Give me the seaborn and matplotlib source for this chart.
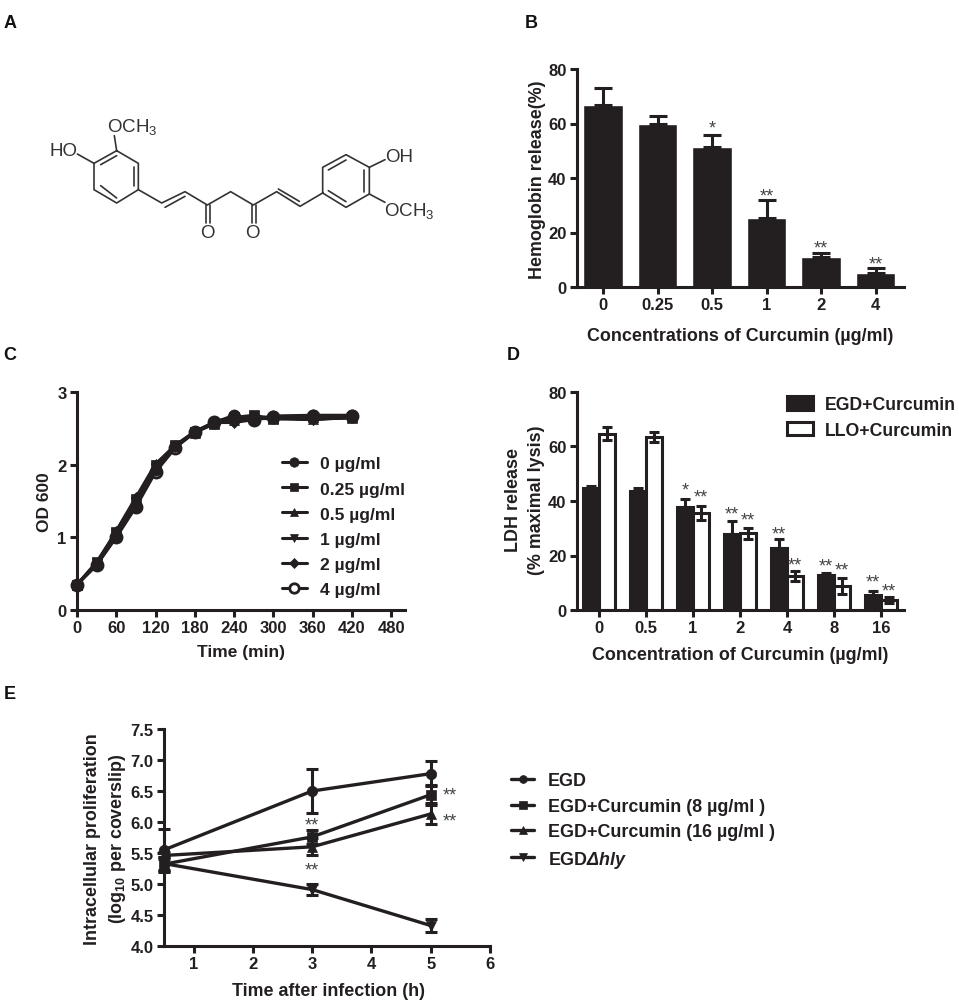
import numpy as np
import pandas as pd
import matplotlib
matplotlib.use('Agg')
import matplotlib.pyplot as plt
import seaborn as sns

INK = '#231f20'
W, H = 959, 1004

# panel B
b_conc = ['0', '0.25', '0.5', '1', '2', '4']
b_mean = [66.8, 59.8, 51.5, 25.4, 10.9, 5.3]
b_err = [6.2, 2.9, 4.4, 6.5, 1.7, 1.7]
b_star_x = [2, 3, 4, 5]
b_star_y = [59.5, 34.8, 15.6, 9.8]
b_star_txt = ['*', '**', '**', '**']

# panel C
c_time = [0, 30, 60, 90, 120, 150, 180, 210, 240, 270, 300, 360, 420]
c_names = ['0 µg/ml', '0.25 µg/ml', '0.5 µg/ml', '1 µg/ml', '2 µg/ml', '4 µg/ml']
c_0 = [0.35, 0.62, 1.02, 1.43, 1.92, 2.25, 2.45, 2.58, 2.68, 2.63, 2.67, 2.68, 2.68]
c_025 = [0.35, 0.66, 1.08, 1.53, 2.00, 2.27, 2.45, 2.56, 2.65, 2.68, 2.63, 2.65, 2.66]
c_05 = [0.35, 0.65, 1.06, 1.50, 1.97, 2.25, 2.44, 2.57, 2.62, 2.66, 2.64, 2.63, 2.64]
c_1 = [0.35, 0.64, 1.04, 1.47, 1.95, 2.24, 2.45, 2.58, 2.60, 2.64, 2.63, 2.62, 2.65]
c_2 = [0.35, 0.63, 1.09, 1.55, 2.01, 2.26, 2.46, 2.58, 2.58, 2.62, 2.65, 2.62, 2.66]
c_4 = [0.35, 0.62, 1.00, 1.42, 1.90, 2.23, 2.45, 2.59, 2.66, 2.62, 2.66, 2.67, 2.67]
c_series = [c_0, c_025, c_05, c_1, c_2, c_4]
c_markers = ['o', 's', '^', 'v', 'D', 'o']

# panel D
d_conc = ['0', '0.5', '1', '2', '4', '8', '16']
d_egd = [44.6, 43.5, 37.9, 27.8, 22.6, 12.8, 5.6]
d_egd_err = [0.8, 1.2, 2.8, 4.9, 3.3, 0.6, 1.5]
d_llo = [64.7, 63.6, 35.5, 28.1, 12.5, 8.8, 3.7]
d_llo_err = [2.4, 1.8, 2.6, 2.0, 1.8, 3.0, 1.1]
d_star_x = [1.835, 2.165, 2.835, 3.165, 3.835, 4.165, 4.835, 5.165, 5.835, 6.165]
d_star_y = [45.3, 42.7, 36.6, 34.3, 29.1, 17.8, 17.5, 15.9, 11.6, 8.3]
d_star_txt = ['*'] + ['**'] * 9

# panel E
e_time = [0.5, 3, 5]
e_names = ['EGD', 'EGD+Curcumin (8 µg/ml )', 'EGD+Curcumin (16 µg/ml )', r'EGD$\mathbfit{Δhly}$']
e_mean = [[5.55, 6.50, 6.78], [5.32, 5.76, 6.44], [5.46, 5.60, 6.13], [5.33, 4.91, 4.33]]
e_err = [[0.34, 0.36, 0.20], [0.12, 0.11, 0.16], [0.05, 0.14, 0.17], [0.11, 0.09, 0.10]]
e_markers = ['o', 's', '^', 'v']
e_star_x = [3, 3, 5.325, 5.325]
e_star_y = [6.0, 5.28, 6.49, 6.08]

# panel A, curcumin skeleton (traced, in 3x crop units)
ring_left = [(350, 455), (415, 493), (415, 572), (350, 612), (282, 572), (282, 493), (350, 455)]
ring_right = [(968, 582), (968, 505), (1038, 467), (1108, 505), (1108, 585), (1038, 625), (968, 582)]
chain = [(415, 572), (485, 612), (555, 578), (622, 618), (692, 578), (760, 618), (830, 578), (900, 622), (968, 582)]
bonds = [
    [(302, 497), (350, 470)], [(402, 505), (402, 560)], [(302, 560), (350, 597)],
    [(985, 513), (1038, 483)], [(1093, 513), (1093, 578)], [(985, 575), (1038, 608)],
    [(282, 493), (232, 465)], [(350, 455), (343, 410)],
    [(1108, 505), (1155, 482)], [(1108, 585), (1155, 610)],
    [(495, 625), (555, 592)], [(835, 570), (898, 607)],
    [(617, 618), (617, 672)], [(629, 618), (629, 672)],
    [(755, 618), (755, 672)], [(767, 618), (767, 672)],
]
atoms = [('HO', 190, 455), ('OCH$_3$', 397, 382), ('OH', 1198, 472), ('OCH$_3$', 1228, 632),
         ('O', 622, 700), ('O', 758, 700)]

sns.set_theme(style='ticks')
plt.rcParams['font.family'] = ['Liberation Sans', 'DejaVu Sans']
plt.rcParams['mathtext.fontset'] = 'custom'
plt.rcParams['mathtext.rm'] = 'Liberation Sans'
plt.rcParams['mathtext.bf'] = 'Liberation Sans:bold'
plt.rcParams['mathtext.bfit'] = 'Liberation Sans:italic:bold'
plt.rcParams['mathtext.default'] = 'regular'
plt.rcParams['text.color'] = INK
plt.rcParams['axes.labelcolor'] = INK
plt.rcParams['xtick.color'] = INK
plt.rcParams['ytick.color'] = INK

fig = plt.figure(figsize=(W / 100, H / 100), dpi=100)


def panel(left, right, top, bottom):
    ax = fig.add_axes([left / W, 1 - bottom / H, (right - left) / W, (bottom - top) / H])
    ax.patch.set_alpha(0)
    return ax


def style(ax, box, xlabel, ylabel, xc, xy, yc, yy, fs=12.9, ls=1.05):
    left, right, top, bottom = box
    ax.set_xlabel(xlabel, fontsize=fs, fontweight='bold', va='center')
    ax.set_ylabel(ylabel, fontsize=fs, fontweight='bold', va='center', linespacing=ls)
    ax.xaxis.set_label_coords((xc - left) / (right - left), (bottom - xy) / (bottom - top))
    ax.yaxis.set_label_coords((yc - left) / (right - left), (bottom - yy) / (bottom - top))
    ax.tick_params(width=2.2, length=5, labelsize=12, pad=2.5, color=INK)
    for t in ax.get_xticklabels() + ax.get_yticklabels():
        t.set_fontweight('bold')
    sns.despine(ax=ax)
    for s in ['left', 'bottom']:
        ax.spines[s].set_linewidth(2.2)
        ax.spines[s].set_color(INK)


def stars(ax, xs, ys, txt):
    for x, y, t in zip(xs, ys, txt):
        ax.annotate(t, (x, y), xytext=(0, -2.5), textcoords='offset points', ha='center',
                    va='center', fontsize=13, color='#444444', annotation_clip=False)


# B
box = (577, 904, 70, 288)
ax = panel(*box)
sns.barplot(x=b_conc, y=b_mean, color=INK, saturation=1, width=0.72, errorbar=None, ax=ax)
ax.errorbar(range(6), b_mean, yerr=[np.zeros(6), b_err], fmt='none', ecolor=INK,
            elinewidth=2.2, capsize=6.5, capthick=2.2)
ax.set_xlim(-0.477, 5.52)
ax.set_ylim(0, 80)
ax.set_yticks([0, 20, 40, 60, 80])
style(ax, box, 'Concentrations of Curcumin (µg/ml)', 'Hemoglobin release(%)', 740, 337, 537, 180)
stars(ax, b_star_x, b_star_y, b_star_txt)

# C
box = (77, 405, 393, 611)
ax = panel(*box)
for i, (name, vals, m) in enumerate(zip(c_names, c_series, c_markers)):
    filled = i != 5
    ms = {'s': 7, '^': 7, 'v': 7, 'D': 5.5}.get(m, 8)
    sns.lineplot(x=c_time, y=vals, ax=ax, color=INK, linewidth=2.2, marker=m, markersize=ms,
                 markerfacecolor=INK if filled else 'white', markeredgecolor=INK,
                 markeredgewidth=2 if not filled else 0.5, label=name, clip_on=False,
                 zorder=3 if not filled else 4)
ax.set_xlim(0, 501)
ax.set_ylim(0, 3)
ax.set_xticks(range(0, 481, 60))
ax.set_yticks([0, 1, 2, 3])
style(ax, box, 'Time (min)', 'OD 600', 241, 653, 45, 502, fs=12.5)
h, l = ax.get_legend_handles_labels()
ax.legend(h, l, loc='center left', bbox_to_anchor=(282 / W, 1 - 527.5 / H), bbox_transform=fig.transFigure,
          frameon=False, borderpad=0, borderaxespad=0, handlelength=1.4, handletextpad=0.75,
          labelspacing=0.56, markerscale=0.85, prop={'weight': 'bold', 'size': 12.6})

# D
box = (577, 904, 393, 611)
ax = panel(*box)
d_df = pd.DataFrame({
    'conc': d_conc * 2,
    'ldh': d_egd + d_llo,
    'group': ['EGD+Curcumin'] * 7 + ['LLO+Curcumin'] * 7,
})
sns.barplot(data=d_df, x='conc', y='ldh', hue='group', palette={'EGD+Curcumin': INK, 'LLO+Curcumin': 'white'},
            saturation=1, width=0.68, gap=0, errorbar=None, edgecolor=INK, linewidth=2.2, ax=ax)
x_pos = np.arange(7)
ax.errorbar(x_pos - 0.17, d_egd, yerr=[np.zeros(7), d_egd_err], fmt='none', ecolor=INK,
            elinewidth=2.2, capsize=3.5, capthick=2.2)
ax.errorbar(x_pos + 0.17, d_llo, yerr=d_llo_err, fmt='none', ecolor=INK,
            elinewidth=2.2, capsize=3.5, capthick=2.2)
ax.set_xlim(-0.468, 6.49)
ax.set_ylim(0, 80)
ax.set_yticks([0, 20, 40, 60, 80])
style(ax, box, 'Concentration of Curcumin (µg/ml)', 'LDH release\n(% maximal lysis)', 740, 655, 525, 500, ls=1.4)
stars(ax, d_star_x, d_star_y, d_star_txt)
h, l = ax.get_legend_handles_labels()
ax.legend(h, l, loc='center left', bbox_to_anchor=(787 / W, 1 - 418.5 / H), bbox_transform=fig.transFigure,
          frameon=False, borderpad=0, borderaxespad=0, handlelength=1.5, handleheight=0.8, handletextpad=0.66,
          labelspacing=0.48, prop={'weight': 'bold', 'size': 12.7})

# E
box = (164, 490, 730, 947)
ax = panel(*box)
for name, mean, err, m in zip(e_names, e_mean, e_err, e_markers):
    sns.lineplot(x=e_time, y=mean, ax=ax, color=INK, linewidth=2.4, marker=m, markersize=7.5,
                 markeredgecolor=INK, markeredgewidth=0.5, label=name, clip_on=False, zorder=4)
    ax.errorbar(e_time, mean, yerr=err, fmt='none', ecolor=INK, elinewidth=2.2, capsize=4,
                capthick=2.2, clip_on=False, zorder=4)
ax.set_xlim(0.5, 6)
ax.set_ylim(4, 7.5)
ax.set_xticks([1, 2, 3, 4, 5, 6])
ax.set_yticks([4, 4.5, 5, 5.5, 6, 6.5, 7, 7.5])
ax.set_yticklabels(['4.0', '4.5', '5.0', '5.5', '6.0', '6.5', '7.0', '7.5'])
style(ax, box, 'Time after infection (h)', 'Intracellular proliferation\n(log$_{10}$ per coverslip)', 328, 991, 106, 839, ls=1.35)
stars(ax, e_star_x, e_star_y, ['**'] * 4)
h, l = ax.get_legend_handles_labels()
ax.legend(h[:4], l[:4], loc='center left', bbox_to_anchor=(511 / W, 1 - 822 / H), bbox_transform=fig.transFigure,
          frameon=False, borderpad=0, borderaxespad=0, handlelength=1.3, handletextpad=0.75,
          labelspacing=0.47, markerscale=0.75, prop={'weight': 'bold', 'size': 12.9})

# A and the panel letters share one overlay in pixel units
ov = fig.add_axes([0, 0, 1, 1])
ov.set_xlim(0, W)
ov.set_ylim(H, 0)
ov.axis('off')
ov.patch.set_alpha(0)
for seg in [ring_left, ring_right, chain] + bonds:
    pts = np.array(seg) / 3
    ov.plot(pts[:, 0], pts[:, 1], color='#333333', lw=1.2, solid_capstyle='round')
for txt, x, y in atoms:
    ov.text(x / 3, y / 3, txt, fontsize=13.5, ha='center', va='center', color='#333333')
for letter, x, y in [('A', 10, 23), ('B', 531, 23), ('C', 10, 356), ('D', 513, 356), ('E', 10, 695)]:
    ov.text(x, y, letter, fontsize=13, fontweight='bold', ha='center', va='center', color='#111111')

fig.savefig('out.png', dpi=100)
